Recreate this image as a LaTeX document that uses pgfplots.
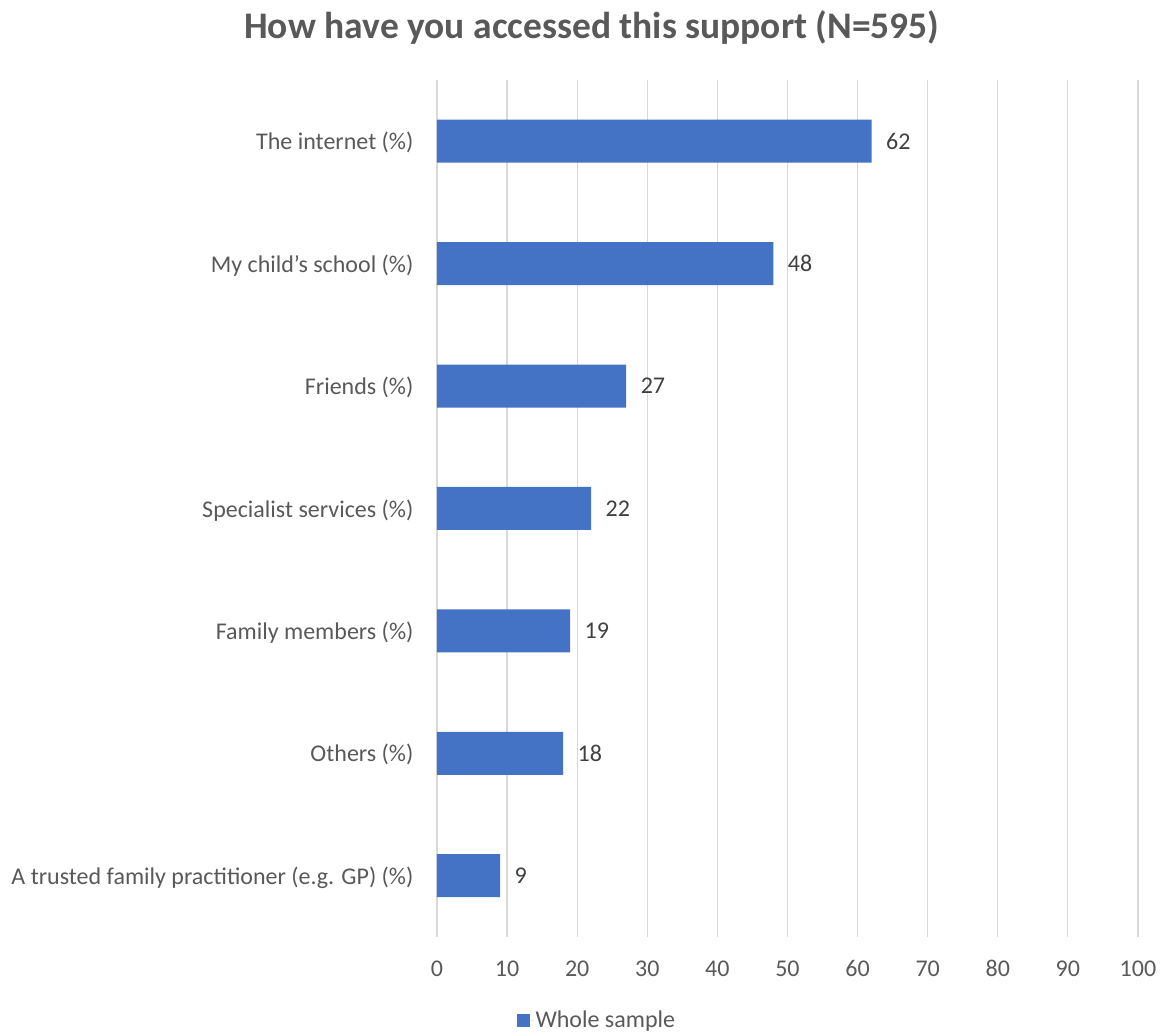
\documentclass[border=0pt]{standalone}
\usepackage{pgfplots}
\pgfplotsset{compat=1.18}
\usepackage{fontspec}
\setmainfont{Carlito}
\definecolor{barblue}{HTML}{4472C4}
\definecolor{txtgray}{HTML}{595959}
\definecolor{lblgray}{HTML}{404040}
\definecolor{gridgray}{HTML}{D9D9D9}
\begin{document}
\begin{tikzpicture}
\begin{axis}[
  scale only axis,
  width=701pt, height=857pt,
  xbar, bar width=43pt,
  xmin=0, xmax=100,
  ymin=-0.5, ymax=6.5,
  xtick={0,10,...,100},
  ytick={0,...,6},
  yticklabels={A trusted family practitioner (e.g. GP) (\%),Others (\%),Family members (\%),Specialist services (\%),Friends (\%),My child’s school (\%),The internet (\%)},
  axis line style={draw=none},
  major tick length=0pt,
  xmajorgrids, grid style={gridgray, line width=1.2pt},
  ticklabel style={font=\fontsize{24}{28}\selectfont, text=txtgray},
  typeset ticklabels with strut,
  xticklabel style={yshift=-16pt},
  yticklabel style={xshift=-20pt, yshift=-3pt},
  /pgf/number format/assume math mode=true,
  nodes near coords,
  every node near coord/.append style={font=\fontsize{24}{28}\selectfont, text=lblgray, xshift=11pt},
  clip=false,
  legend style={at={(0.228,-0.097)}, anchor=center, draw=none, font=\fontsize{24}{28}\selectfont, text=txtgray, inner sep=0pt},
  legend image code/.code={\fill[barblue] (0pt,-7pt) rectangle (13pt,6pt); \path (0pt,0pt) -- (17pt,0pt);},
]
\addplot[fill=barblue, draw=none] coordinates {(9,0) (18,1) (19,2) (22,3) (27,4) (48,5) (62,6)};
\addlegendentry{Whole sample}
\node[font=\bfseries\fontsize{37.5}{42}\selectfont, text=txtgray] at (rel axis cs:0.221,1.061) {How have you accessed this support (N=595)};
\path (rel axis cs:-0.6234,-0.112) rectangle (rel axis cs:1.0357,1.0933);
\end{axis}
\end{tikzpicture}
\end{document}
